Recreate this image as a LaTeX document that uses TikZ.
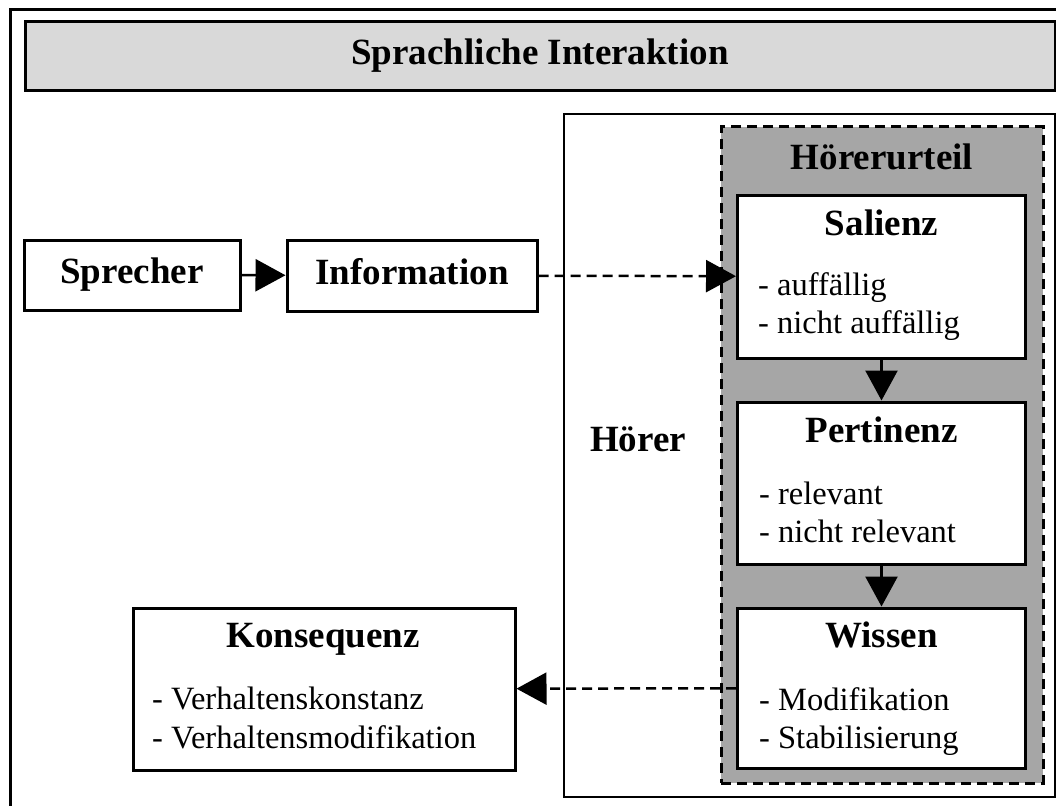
\documentclass[tikz,border=0pt]{standalone}
\usepackage{fontspec}
\setmainfont{Liberation Serif}
\usetikzlibrary{arrows.meta}

\definecolor{hell}{HTML}{D9D9D9}
\definecolor{dunkel}{HTML}{A6A6A6}

\tikzset{
	kasten/.style={draw, line width=3pt, fill=white, inner sep=0pt},
	kopf/.style={font=\bfseries\fontsize{37}{40}\selectfont},
	zeile/.style={text height=25pt, text depth=8pt},
	eintrag/.style={font=\fontsize{32.5}{38}\selectfont, anchor=base west, inner sep=0pt},
	pfeil/.style={-{Triangle[length=30pt,width=32pt]}, line width=2.5pt},
	strich/.style={dash pattern=on 10pt off 6pt},
}

\begin{document}
\begin{tikzpicture}[x=1pt,y=-1pt]
	\clip (0,0) rectangle (1056,805);
	% Rahmen und Titel
	\draw[line width=3pt] (10,10) rectangle (1080,830);
	\node[kasten, kopf, zeile, fill=hell, minimum width=1030pt, minimum height=69pt] (titel) at (540,56.5) {Sprachliche Interaktion};

	% Hoerer und Hoererurteil
	\node[draw, line width=2pt, minimum width=491pt, minimum height=683pt] (hoerer) at (809.5,455.5) {};
	\node[kopf, anchor=base] (hoererlabel) at (638,451) {Hörer};
	\node[draw, strich, line width=3pt, fill=dunkel, minimum width=322pt, minimum height=656pt] (urteil) at (882,455) {};
	\node[kopf, anchor=base] (urteillabel) at (882,170) {Hörerurteil};

	% Sprecher und Information
	\node[kasten, kopf, zeile, minimum width=216pt, minimum height=70pt] (sprecher) at (132,275) {Sprecher};
	\node[kasten, kopf, zeile, minimum width=250pt, minimum height=71pt] (info) at (412,275.5) {Information};

	% Salienz
	\node[kasten, minimum width=288pt, minimum height=163pt] (salienz) at (881.5,276.5) {};
	\node[kopf, anchor=base] (salienzkopf) at (881.5,235) {Salienz};
	\node[eintrag] (sal1) at (758,295) {- auffällig};
	\node[eintrag] (sal2) at (758,333) {- nicht auffällig};

	% Pertinenz
	\node[kasten, minimum width=288pt, minimum height=162pt] (pertinenz) at (881.5,483) {};
	\node[kopf, anchor=base] (pertinenzkopf) at (881.5,442) {Pertinenz};
	\node[eintrag] (per1) at (759,504) {- relevant};
	\node[eintrag] (per2) at (759,542) {- nicht relevant};

	% Wissen
	\node[kasten, minimum width=288pt, minimum height=160pt] (wissen) at (881.5,688) {};
	\node[kopf, anchor=base] (wissenkopf) at (881.5,647) {Wissen};
	\node[eintrag] (wis1) at (759,710) {- Modifikation};
	\node[eintrag] (wis2) at (759,748) {- Stabilisierung};

	% Konsequenz
	\node[kasten, minimum width=382pt, minimum height=162pt] (konsequenz) at (324,689) {};
	\node[kopf, anchor=base] (konsequenzkopf) at (323,647) {Konsequenz};
	\node[eintrag] (kon1) at (152,709) {- Verhaltenskonstanz};
	\node[eintrag] (kon2) at (152,748) {- Verhaltensmodifikation};

	% Pfeile
	\draw[pfeil] (sprecher) -- (info);
	\draw[pfeil, strich] (info) -- (salienz);
	\draw[pfeil] (salienz) -- (pertinenz);
	\draw[pfeil] (pertinenz) -- (wissen);
	\draw[pfeil, strich] (wissen) -- (konsequenz);
\end{tikzpicture}
\end{document}
